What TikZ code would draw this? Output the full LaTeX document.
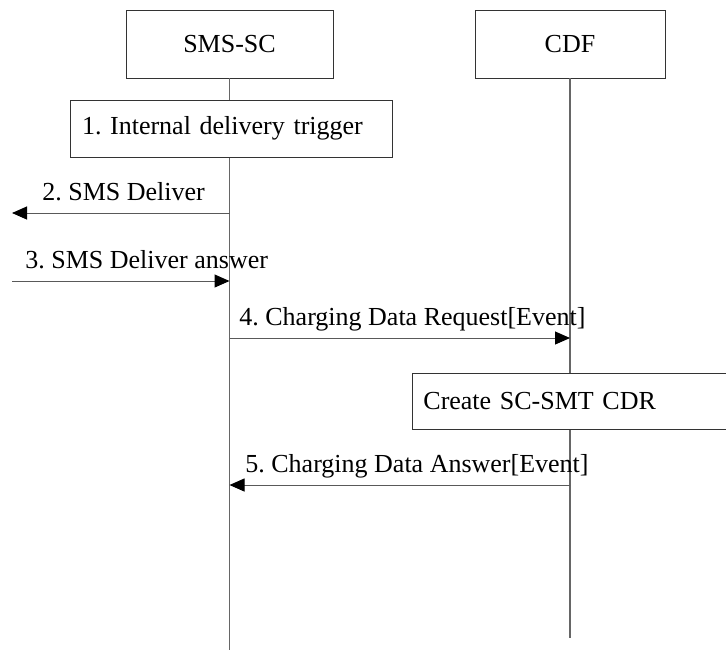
\documentclass[tikz,border=0pt]{standalone}
\usepackage{fontspec}
\setmainfont{Liberation Serif}
\usetikzlibrary{arrows.meta}
\begin{document}
\frenchspacing
\begin{tikzpicture}[
        x                  = 0.5pt,
        y                  = -0.5pt,
        every node/.style  = {font=\fontsize{13}{15}\selectfont},
        entity/.style      = {draw=black!80, fill=white, minimum height=34pt, inner sep=0pt},
        action/.style      = {draw=black!80, fill=white, align=left, inner ysep=0pt},
        lifeline/.style    = {draw=black!60, line width=0.6pt},
        msg/.style         = {draw=black!65, line width=0.5pt, -{Triangle[length=7.5pt, width=6.5pt, black]}},
        msglabel/.style    = {anchor=base west, inner sep=0pt},
        %every path/.style = {},
      ]
    \useasboundingbox (0,0) rectangle (726,650);
    % entities and lifelines
    \node[entity, minimum width=103.5pt] (smssc) at (229.5,44) {SMS-SC};
    \node[entity, minimum width=95pt] (cdf) at (570,44) {CDF};
    \coordinate (smsscend) at (229.5,650);
    \coordinate (cdfend) at (570,638);
    \draw[lifeline] (smssc) -- (smsscend);
    \draw[lifeline] (cdf) -- (cdfend);
    % local actions
    \node[action, minimum height=28.5pt, text width=149pt, inner xsep=6pt] (trigger) at (231,128.5)
        {1. Internal delivery trigger};
    \node[action, minimum height=28pt, text width=160pt, inner xsep=5.5pt, anchor=west] (createcdr) at (412,401)
        {Create SC-SMT CDR};
    % messages
    \coordinate (left2) at (12,213);
    \coordinate (left3) at (12,281);
    \coordinate (sc2) at (229.5,213);
    \coordinate (sc3) at (229.5,281);
    \coordinate (sc4) at (229.5,338);
    \coordinate (cdf4) at (570,338);
    \coordinate (sc5) at (229.5,485);
    \coordinate (cdf5) at (570,485);
    \draw[msg] (sc2) -- (left2);
    \draw[msg] (left3) -- (sc3);
    \draw[msg] (sc4) -- (cdf4);
    \draw[msg] (cdf5) -- (sc5);
    \node[msglabel] (lab2) at (42,200) {2. SMS Deliver};
    \node[msglabel] (lab3) at (25,268) {3. SMS Deliver answer};
    \node[msglabel] (lab4) at (239,325) {4. Charging Data Request[Event]};
    \node[msglabel] (lab5) at (245,472) {5. Charging Data Answer[Event]};
\end{tikzpicture}
\end{document}
